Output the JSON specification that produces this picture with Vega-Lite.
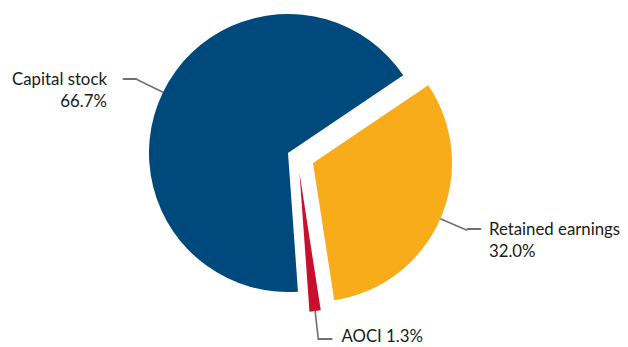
{
  "$schema": "https://vega.github.io/schema/vega-lite/v6.json",
  "width": 628,
  "height": 347,
  "padding": 0,
  "autosize": {"type": "fit", "contains": "padding"},
  "background": "white",
  "config": {"view": {"stroke": null}, "text": {"font": "Lato", "color": "#1a1a1a"}},
  "data": {"values": [
    {"category": "Retained earnings", "value": 32.0},
    {"category": "AOCI", "value": 1.3},
    {"category": "Capital stock", "value": 66.7}
  ]},
  "transform": [
    {"stack": "value", "groupby": [], "as": ["v0", "v1"]},
    {"calculate": "(datum.v0 + datum.v1) / 2", "as": "mid"},
    {"calculate": "datum.category === 'AOCI' ? datum.category + ' ' + format(datum.value, '.1f') + '%' : datum.category + '\\n' + format(datum.value, '.1f') + '%'", "as": "lbl"}
  ],
  "layer": [
    {
      "transform": [{"filter": "datum.category === 'Capital stock'"}],
      "layer": [
        {"mark": {"type": "arc", "radius": 139, "fill": "#00497C", "xOffset": -26, "yOffset": -20.5},
         "encoding": {"theta": {"field": "v0", "type": "quantitative", "scale": {"domain": [0, 100], "range": [0.9774, 7.2606]}}, "theta2": {"field": "v1"}}},
        {"mark": {"type": "arc", "radius": 168, "radius2": 139, "filled": false, "stroke": "#707070", "strokeWidth": 1.6, "xOffset": -26, "yOffset": -20.5},
         "encoding": {"theta": {"field": "mid", "type": "quantitative", "scale": {"domain": [0, 100], "range": [0.9774, 7.2606]}}, "theta2": {"field": "mid"}}},
        {"mark": {"type": "text", "radius": 168, "font": "DejaVu Sans Mono", "fontSize": 23, "align": "right", "baseline": "middle", "color": "#707070", "xOffset": -26, "yOffset": -20.5},
         "encoding": {"theta": {"field": "mid", "type": "quantitative", "stack": null, "scale": {"domain": [0, 100], "range": [0.9774, 7.2606]}}, "text": {"value": "─"}}},
        {"mark": {"type": "text", "radius": 168, "fontSize": 16.8, "lineHeight": 22, "lineBreak": "\n", "align": "right", "baseline": "middle", "dx": -30, "xOffset": -26, "yOffset": -20.5},
         "encoding": {"theta": {"field": "mid", "type": "quantitative", "stack": null, "scale": {"domain": [0, 100], "range": [0.9774, 7.2606]}}, "text": {"field": "lbl"}}}
      ]
    },
    {
      "transform": [{"filter": "datum.category === 'Retained earnings'"}],
      "layer": [
        {"mark": {"type": "arc", "radius": 139, "fill": "#F9AC1A", "xOffset": -1, "yOffset": -10.5},
         "encoding": {"theta": {"field": "v0", "type": "quantitative", "scale": {"domain": [0, 100], "range": [0.9774, 7.2606]}}, "theta2": {"field": "v1"}}},
        {"mark": {"type": "arc", "radius": 168, "radius2": 139, "filled": false, "stroke": "#707070", "strokeWidth": 1.6, "xOffset": -1, "yOffset": -10.5},
         "encoding": {"theta": {"field": "mid", "type": "quantitative", "scale": {"domain": [0, 100], "range": [0.9774, 7.2606]}}, "theta2": {"field": "mid"}}},
        {"mark": {"type": "text", "radius": 168, "font": "DejaVu Sans Mono", "fontSize": 23, "align": "left", "baseline": "middle", "color": "#707070", "xOffset": -1, "yOffset": -10.5},
         "encoding": {"theta": {"field": "mid", "type": "quantitative", "stack": null, "scale": {"domain": [0, 100], "range": [0.9774, 7.2606]}}, "text": {"value": "─"}}},
        {"mark": {"type": "text", "radius": 168, "fontSize": 16.8, "lineHeight": 22, "lineBreak": "\n", "align": "left", "baseline": "middle", "dx": 22, "xOffset": -1, "yOffset": -10.5},
         "encoding": {"theta": {"field": "mid", "type": "quantitative", "stack": null, "scale": {"domain": [0, 100], "range": [0.9774, 7.2606]}}, "text": {"field": "lbl"}}}
      ]
    },
    {
      "transform": [{"filter": "datum.category === 'AOCI'"}],
      "layer": [
        {"mark": {"type": "arc", "radius": 139, "fill": "#C8102E", "xOffset": -14.5, "yOffset": -0.5},
         "encoding": {"theta": {"field": "v0", "type": "quantitative", "scale": {"domain": [0, 100], "range": [0.9774, 7.2606]}}, "theta2": {"field": "v1"}}},
        {"mark": {"type": "arc", "radius": 168, "radius2": 139, "filled": false, "stroke": "#707070", "strokeWidth": 1.6, "xOffset": -14.5, "yOffset": -0.5},
         "encoding": {"theta": {"field": "mid", "type": "quantitative", "scale": {"domain": [0, 100], "range": [0.9774, 7.2606]}}, "theta2": {"field": "mid"}}},
        {"mark": {"type": "text", "radius": 168, "font": "DejaVu Sans Mono", "fontSize": 11.5, "align": "left", "baseline": "middle", "color": "#707070", "xOffset": -14.5, "yOffset": -0.5},
         "encoding": {"theta": {"field": "mid", "type": "quantitative", "stack": null, "scale": {"domain": [0, 100], "range": [0.9774, 7.2606]}}, "text": {"value": "━━"}}},
        {"mark": {"type": "text", "radius": 168, "fontSize": 16.8, "align": "left", "baseline": "middle", "dx": 23, "xOffset": -14.5, "yOffset": -3},
         "encoding": {"theta": {"field": "mid", "type": "quantitative", "stack": null, "scale": {"domain": [0, 100], "range": [0.9774, 7.2606]}}, "text": {"field": "lbl"}}}
      ]
    }
  ]
}
